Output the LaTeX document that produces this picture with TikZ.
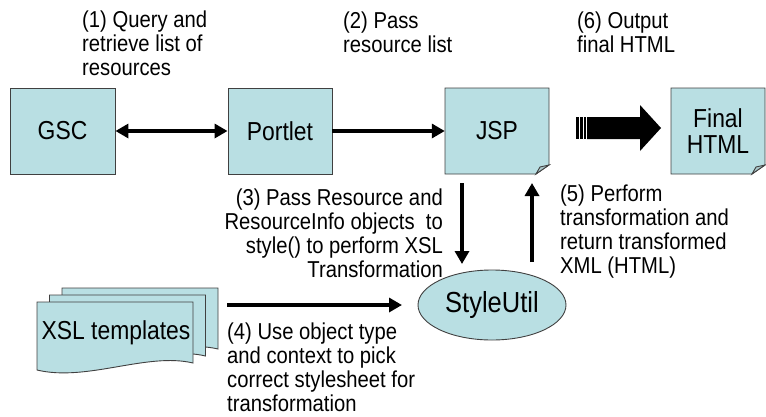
\documentclass[tikz,border=0pt]{standalone}
\usepackage{fontspec}
\setmainfont{Liberation Sans}[FakeStretch=0.88]
\usetikzlibrary{arrows.meta,shapes.geometric}
\definecolor{boxfill}{RGB}{185,223,227}
\definecolor{boxline}{RGB}{64,64,64}
\begin{document}
\begin{tikzpicture}[x=1pt,y=-1pt,
  boxshape/.style={draw=boxline, fill=boxfill, line width=0.9pt},
  boxtext/.style={font=\fontsize{26}{26}\selectfont, align=center, inner sep=0pt},
  lbl/.style={font=\fontsize{23}{24}\selectfont, inner sep=0pt},
  arr/.style={line width=4.5pt, -{Triangle[length=13pt,width=14pt]}},
  dblarr/.style={line width=4.5pt, {Triangle[length=13pt,width=14pt]}-{Triangle[length=13pt,width=14pt]}},
]
\useasboundingbox (0,0) rectangle (766,416);

% boxes
\node[boxshape, boxtext, minimum width=105pt, minimum height=86pt] (gsc) at (62.5,131) {GSC};
\node[boxshape, boxtext, minimum width=104pt, minimum height=86pt] (portlet) at (280,131) {Portlet};

\draw[boxshape] (445,88) -- (549,88) -- (549,165) -- (536,174) -- (445,174) -- cycle;
\draw[boxshape, fill=boxfill!75!gray] (536,174) -- (540,167) -- (549,165) -- cycle;
\node[boxtext, minimum width=104pt, minimum height=86pt] (jsp) at (497,131) {JSP};

\draw[boxshape] (671,88) -- (765,88) -- (765,165) -- (752,174) -- (671,174) -- cycle;
\draw[boxshape, fill=boxfill!75!gray] (752,174) -- (756,167) -- (765,165) -- cycle;
\node[boxtext, minimum width=94pt, minimum height=86pt] (final) at (718,131) {Final\\HTML};

% StyleUtil
\node[ellipse, boxshape, minimum width=148pt, minimum height=70pt, inner sep=0pt,
      font=\fontsize{29}{30}\selectfont] (su) at (492,305) {StyleUtil};

% XSL templates (multi-document)
\foreach \dx/\dy in {25/-14, 12.5/-7, 0/0}{
  \draw[boxshape] (37+\dx,302+\dy) -- (193+\dx,302+\dy) -- (193+\dx,363+\dy)
     .. controls (147+\dx,352+\dy) and (87+\dx,382+\dy) .. (37+\dx,370+\dy) -- cycle;
}
\node[font=\fontsize{26}{26}\selectfont, inner sep=0pt] (xsl) at (116,333) {XSL templates};

% connectors
\draw[dblarr] (gsc) -- (portlet);
\draw[arr] (portlet) -- (jsp);
\coordinate (d1) at (462,183); \coordinate (d2) at (462,264);
\draw[arr] (d1) -- (d2);
\coordinate (u1) at (532,262); \coordinate (u2) at (532,183);
\draw[arr] (u1) -- (u2);
\coordinate (s1) at (227,305); \coordinate (s2) at (402,305);
\draw[arr] (s1) -- (s2);

% big striped arrow JSP -> Final HTML
\fill (576,117) rectangle (578.5,139);
\fill (580,117) rectangle (582.5,139);
\fill (584,117) rectangle (586,139);
\fill (587,117) -- (640,117) -- (640,105) -- (661,128) -- (640,151) -- (640,139) -- (587,139) -- cycle;

% labels (base anchor = baseline of last line)
\node[lbl, anchor=base west, align=left] (l1) at (82,75) {(1) Query and\\retrieve list of\\resources};
\node[lbl, anchor=base west, align=left] (l2) at (343,52) {(2) Pass\\resource list};
\node[lbl, anchor=base west, align=left] (l6) at (577,52) {(6) Output\\final HTML};
\node[lbl, anchor=base east, align=right] (l3) at (443,277) {(3) Pass Resource and\\ResourceInfo objects\ \ to\\style() to perform XSL\\Transformation};
\node[lbl, anchor=base west, align=left] (l4) at (227,411) {(4) Use object type\\and context to pick\\correct stylesheet for\\transformation};
\node[lbl, anchor=base west, align=left] (l5) at (560,273) {(5) Perform\\transformation and\\return transformed\\XML (HTML)};
\end{tikzpicture}
\end{document}
